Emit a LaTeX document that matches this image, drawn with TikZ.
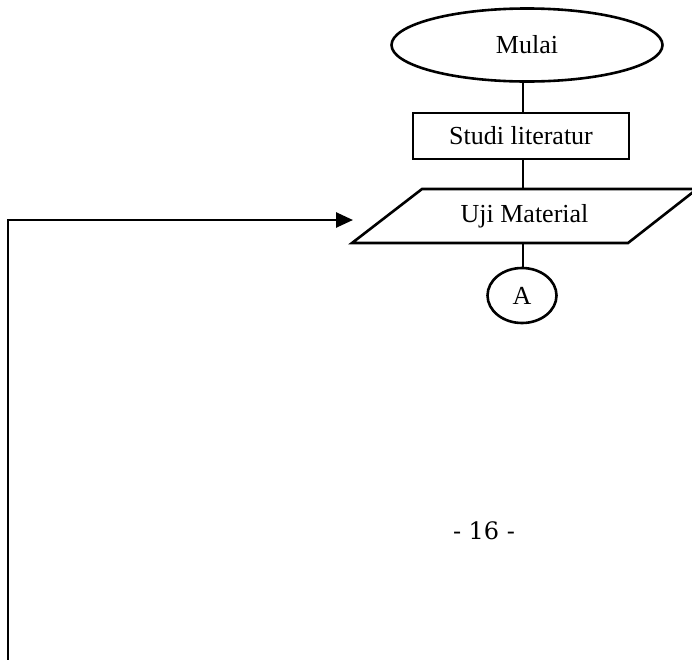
\documentclass[tikz,border=0pt]{standalone}
\usepackage{fontspec}
\setmainfont{Liberation Serif}
\newfontfamily\pagefont{DejaVu Serif}
\usetikzlibrary{shapes.geometric,arrows.meta,calc}

\begin{document}
\begin{tikzpicture}[x=1pt,y=-1pt,
  every node/.style={font=\fontsize{26}{30}\selectfont, inner sep=0pt},
  line/.style={line width=2.6pt},
  terminal/.style={ellipse, draw, line width=2.6pt, minimum width=271pt, minimum height=73pt},
  process/.style={rectangle, draw, line width=2.6pt, minimum width=216pt, minimum height=46pt},
  connector/.style={ellipse, draw, line width=2.6pt, minimum width=69pt, minimum height=55pt},
  iobox/.style={rectangle, minimum width=276pt, minimum height=54pt}]
  \useasboundingbox (0,0) rectangle (692,659);

  % flowchart nodes
  \node[terminal] (mulai) at (527,45) {Mulai};
  \node[process] (studi) at (521,136) {Studi literatur};
  \node[iobox] (uji) at (524.5,216) {Uji Material};
  \draw[line, line join=miter]
    (352,243) -- (422,189) -- (697,189) -- (628,243) -- cycle;
  \node[connector] (a) at (522,295.5) {A};

  % vertical links
  \draw[line] (mulai.south -| 523,0) -- (studi.north -| 523,0);
  \draw[line] (studi.south -| 523,0) -- (uji.north -| 523,0);
  \draw[line] (uji.south -| 523,0) -- (a.north -| 523,0);

  % feedback loop into the input step
  \coordinate (loopbottom) at (8,665);
  \coordinate (looptip) at (353,220);
  \draw[line, -{Triangle[length=17pt,width=15pt]}] (loopbottom) |- (looptip);

  % page number
  \node[font=\pagefont\fontsize{24}{28}\selectfont] (pagenum) at (484,531) {- 16 -};
\end{tikzpicture}
\end{document}
